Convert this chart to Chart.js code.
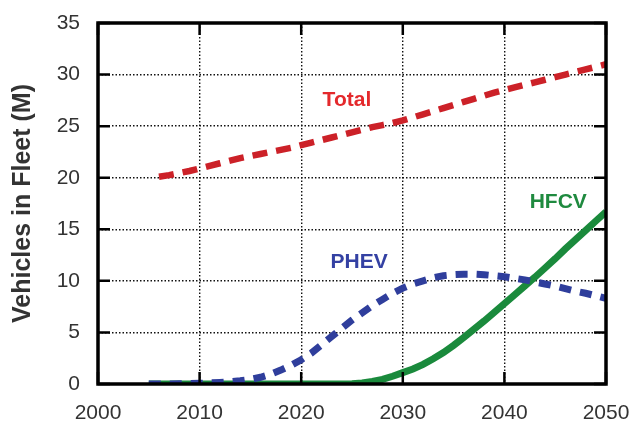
<!DOCTYPE html>
<html>
<head>
<meta charset="utf-8">
<script src="https://cdn.jsdelivr.net/npm/chart.js@4"></script>
<style>
  html, body { margin: 0; padding: 0; background: #fff; }
  #wrap { width: 633px; height: 425px; }
</style>
</head>
<body>
<div id="wrap"><canvas id="grafica"></canvas></div>
<script>
/* ===== DATOS ===== */

const AÑOS = [
  2005, 2006, 2007, 2008, 2009, 2010, 2011, 2012, 2013, 2014,
  2015, 2016, 2017, 2018, 2019, 2020, 2021, 2022, 2023, 2024,
  2025, 2026, 2027, 2028, 2029, 2030, 2031, 2032, 2033, 2034,
  2035, 2036, 2037, 2038, 2039, 2040, 2041, 2042, 2043, 2044,
  2045, 2046, 2047, 2048, 2049, 2050
];

const TOTAL = [
  null, 20.1, 20.25, 20.45, 20.65, 20.9, 21.15, 21.4, 21.65, 21.9,
  22.1, 22.3, 22.5, 22.7, 22.9, 23.15, 23.4, 23.65, 23.9, 24.15,
  24.4, 24.65, 24.9, 25.1, 25.3, 25.55, 25.85, 26.15, 26.45, 26.75,
  27.05, 27.35, 27.65, 27.95, 28.25, 28.5, 28.75, 29.0, 29.25, 29.5,
  29.75, 30.0, 30.25, 30.5, 30.75, 31.0
];

const PHEV = [
  0, 0, 0, 0.02, 0.04, 0.07, 0.1, 0.15, 0.22, 0.32,
  0.45, 0.65, 0.95, 1.35, 1.8, 2.35, 3.0, 3.8, 4.6, 5.4,
  6.2, 6.9, 7.6, 8.2, 8.8, 9.3, 9.7, 10.0, 10.3, 10.5,
  10.6, 10.65, 10.65, 10.6, 10.5, 10.4, 10.25, 10.1, 9.9, 9.7,
  9.5, 9.25, 9.0, 8.8, 8.55, 8.3
];

const HFCV = [
  0, 0, 0, 0, 0, 0, 0, 0, 0, 0,
  0, 0, 0, 0, 0, 0, 0, 0, 0, 0,
  0.03, 0.1, 0.25, 0.45, 0.75, 1.1, 1.45, 1.9, 2.45, 3.05,
  3.75, 4.5, 5.3, 6.1, 6.95, 7.8, 8.65, 9.5, 10.35, 11.25,
  12.15, 13.1, 14.0, 14.9, 15.8, 16.7
];

const MARCAS_X = [2000, 2010, 2020, 2030, 2040, 2050];
const MARCAS_Y = [0, 5, 10, 15, 20, 25, 30, 35];

// etiquetas de serie: texto, año, valor (posición en unidades de datos)
const ETIQUETAS = [
  { texto: "Total", x: 2024.5, y: 27.55, color: "#e4292c" },
  { texto: "PHEV",  x: 2025.7, y: 11.8,  color: "#3441a3" },
  { texto: "HFCV",  x: 2045.3, y: 17.65, color: "#1f8a3f" }
];

const FUENTE = "'Liberation Sans', Arial, sans-serif";

function puntos(valores) {
  return AÑOS.map(function(a, i) { return { x: a, y: valores[i] }; });
}

/* ===== PLUGIN: MARCO, MARCAS INTERIORES Y ETIQUETAS ===== */

const pluginMarco = {
  id: "marco",
  afterDatasetsDraw(chart) {
    const ctx = chart.ctx;
    const area = chart.chartArea;
    const ex = chart.scales.x;
    const ey = chart.scales.y;
    const largo = 12;

    ctx.save();
    ctx.strokeStyle = "#000";
    ctx.lineWidth = 2.5;
    ctx.beginPath();
    MARCAS_X.forEach(function(v) {
      const px = ex.getPixelForValue(v);
      ctx.moveTo(px, area.bottom); ctx.lineTo(px, area.bottom - largo);
      ctx.moveTo(px, area.top);    ctx.lineTo(px, area.top + largo);
    });
    MARCAS_Y.forEach(function(v) {
      const py = ey.getPixelForValue(v);
      ctx.moveTo(area.left, py);  ctx.lineTo(area.left + largo, py);
      ctx.moveTo(area.right, py); ctx.lineTo(area.right - largo, py);
    });
    ctx.stroke();

    ctx.lineWidth = 3.5;
    ctx.strokeRect(area.left, area.top, area.right - area.left, area.bottom - area.top);

    ctx.font = "bold 21px " + FUENTE;
    ctx.textAlign = "center";
    ctx.textBaseline = "middle";
    ETIQUETAS.forEach(function(e) {
      ctx.fillStyle = e.color;
      ctx.fillText(e.texto, ex.getPixelForValue(e.x), ey.getPixelForValue(e.y));
    });
    ctx.restore();
  }
};

/* ===== GRÁFICA ===== */

function inicializar() {
  const lienzo = document.getElementById("grafica");

  new Chart(lienzo, {
    type: "line",
    data: {
      datasets: [
        {
          label: "Total",
          data: puntos(TOTAL),
          borderColor: "#cc2128",
          borderWidth: 6.5,
          borderDash: [15, 9],
          borderCapStyle: "butt",
          pointRadius: 0,
          tension: 0,
          spanGaps: false
        },
        {
          label: "PHEV",
          data: puntos(PHEV),
          borderColor: "#2f3e9c",
          borderWidth: 7,
          borderDash: [12, 9],
          borderCapStyle: "butt",
          pointRadius: 0,
          tension: 0
        },
        {
          label: "HFCV",
          data: puntos(HFCV),
          borderColor: "#1a8a3c",
          borderWidth: 7,
          pointRadius: 0,
          tension: 0
        }
      ]
    },
    options: {
      responsive: true,
      maintainAspectRatio: false,
      animation: false,
      layout: { padding: { left: 0, top: 23, right: 27, bottom: 0 } },
      plugins: {
        legend: { display: false },
        tooltip: { enabled: false }
      },
      scales: {
        x: {
          type: "linear",
          min: 2000,
          max: 2050,
          afterFit: function(eje) {
            eje.height = 41;
            eje.paddingLeft = 0;
            eje.paddingRight = 0;
          },
          afterBuildTicks: function(eje) {
            eje.ticks = MARCAS_X.map(function(v) { return { value: v }; });
          },
          grid: { color: "#111", lineWidth: 1.4, drawTicks: false },
          border: { display: false, dash: [1.5, 2] },
          ticks: {
            color: "#333",
            padding: 17,
            maxRotation: 0,
            font: { family: FUENTE, size: 21 },
            callback: function(v) { return String(v); }
          }
        },
        y: {
          min: 0,
          max: 35,
          afterFit: function(eje) {
            eje.width = 98;
            eje.paddingTop = 0;
            eje.paddingBottom = 0;
          },
          afterBuildTicks: function(eje) {
            eje.ticks = MARCAS_Y.map(function(v) { return { value: v }; });
          },
          grid: { color: "#111", lineWidth: 1.4, drawTicks: false },
          border: { display: false, dash: [1.5, 2] },
          ticks: {
            color: "#333",
            padding: 18,
            font: { family: FUENTE, size: 21 }
          },
          title: {
            display: true,
            text: "Vehicles in Fleet (M)",
            color: "#333",
            padding: { top: 8, bottom: 0 },
            font: { family: FUENTE, size: 25, weight: "bold" }
          }
        }
      }
    },
    plugins: [pluginMarco]
  });
}

document.addEventListener("DOMContentLoaded", inicializar);
</script>
</body>
</html>
